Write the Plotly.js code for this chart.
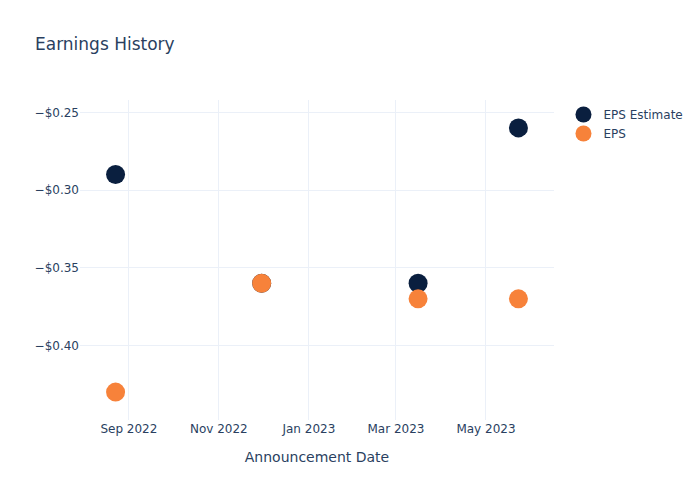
<!DOCTYPE html>
<html>
<head>
<meta charset="utf-8">
<script src="https://cdn.plot.ly/plotly-3.0.1.min.js"></script>
<style>html,body{margin:0;padding:0;background:#fff;}</style>
</head>
<body>
<div id="chart" style="width:700px;height:500px;"></div>
<script>
const dates = ["2022-08-23", "2022-11-30", "2023-03-16", "2023-05-23"];
const epsEstimate = [-0.29, -0.36, -0.36, -0.26];
const eps = [-0.43, -0.36, -0.37, -0.37];

const data = [
  {
    type: "scatter", mode: "markers", name: "EPS Estimate",
    x: dates, y: epsEstimate,
    marker: {size: 19, color: "#0a1f3f"}
  },
  {
    type: "scatter", mode: "markers", name: "EPS",
    x: dates, y: eps,
    marker: {size: 19, color: "#f7823a"}
  }
];

const layout = {
  width: 700, height: 500,
  title: {text: "Earnings History", x: 0.05, font: {size: 17, color: "#2a3f5f"}},
  font: {family: "DejaVu Sans, Open Sans, sans-serif", size: 12, color: "#2a3f5f"},
  paper_bgcolor: "#fff", plot_bgcolor: "#fff",
  xaxis: {
    title: {text: "Announcement Date", font: {size: 14}, standoff: 17},
    automargin: true,
    type: "date",
    gridcolor: "#EBF0F8", zeroline: false, showline: false,
    tickformat: "%b %Y", dtick: "M2"
  },
  yaxis: {
    tickformat: "$.2f",
    gridcolor: "#EBF0F8", zeroline: false
  },
  legend: {x: 1.02, y: 1, font: {size: 12}},
  margin: {l: 80, r: 80, t: 100, b: 80},
  hovermode: "closest"
};

Plotly.newPlot("chart", data, layout, {displayModeBar: false});
</script>
</body>
</html>
